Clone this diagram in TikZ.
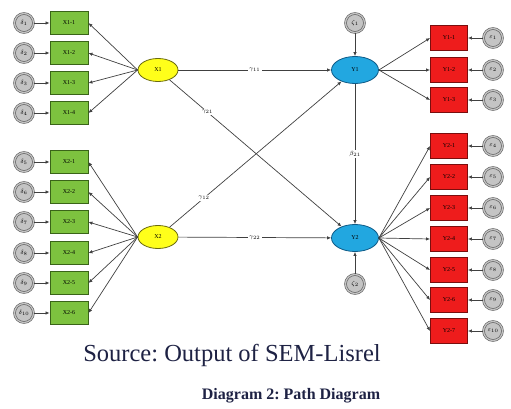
\documentclass[tikz,border=0pt]{standalone}
\usepackage{fontspec}
\setmainfont{Liberation Serif}
\frenchspacing
\usetikzlibrary{arrows.meta,shapes.geometric}
\definecolor{gfill}{HTML}{7DC23F}
\definecolor{gline}{HTML}{3A6418}
\definecolor{rfill}{HTML}{EE1C1C}
\definecolor{rline}{HTML}{7A0E0E}
\definecolor{bfill}{HTML}{22A7E0}
\definecolor{bline}{HTML}{0E5A86}
\definecolor{yfill}{HTML}{FFFF1A}
\definecolor{yline}{HTML}{6B6B10}
\definecolor{efill}{HTML}{C4C4C4}
\definecolor{eline}{HTML}{5A5A5A}
\definecolor{capcol}{HTML}{1E2244}
\begin{document}
\begin{tikzpicture}[x=1pt,y=-1pt,
  tiny/.style={font=\fontsize{6}{6}\selectfont},
  xind/.style={rectangle,draw=gline,fill=gfill,line width=0.9pt,minimum width=38pt,minimum height=23pt,inner sep=0pt,tiny},
  yind/.style={rectangle,draw=rline,fill=rfill,line width=0.9pt,minimum width=37pt,minimum height=25pt,inner sep=0pt,tiny},
  errc/.style={circle,draw=eline,double=efill,double distance=1.3pt,line width=0.6pt,fill=efill,minimum size=19pt,inner sep=0pt,tiny},
  exo/.style={ellipse,draw=yline,fill=yfill,line width=0.8pt,minimum width=40pt,minimum height=23pt,inner sep=0pt,tiny},
  endo/.style={ellipse,draw=bline,fill=bfill,line width=0.8pt,minimum width=47pt,minimum height=27pt,inner sep=0pt,tiny},
  arr/.style={draw=black!75,line width=0.7pt,-{Latex[length=4pt,width=3.5pt]}},
  plab/.style={fill=white,inner sep=1.5pt,tiny}]
\useasboundingbox (0,0) rectangle (511,409);

% exogenous latent variables
\node[exo] (X1) at (158,70) {X1};
\node[exo] (X2) at (158,237) {X2};
% endogenous latent variables
\node[endo] (Y1) at (355,70) {Y1};
\node[endo] (Y2) at (355,238) {Y2};

% indicators of X1
\foreach \i/\yy in {1/23,2/53,3/83,4/113}{
  \node[xind] (a\i) at (69,\yy) {X1-\i};
  \node[errc] (da\i) at (24,\yy) {$\delta_{\i}$};
  \draw[arr] (da\i) -- (a\i);
  \draw[arr] (X1.west) -- (a\i.east);
}
% indicators of X2
\foreach \i/\yy/\n in {1/162/5,2/192/6,3/222/7,4/253/8,5/283/9,6/313/10}{
  \node[xind] (b\i) at (69,\yy) {X2-\i};
  \node[errc] (db\i) at (24,\yy) {$\delta_{\n}$};
  \draw[arr] (db\i) -- (b\i);
  \draw[arr] (X2.west) -- (b\i.east);
}
% indicators of Y1
\foreach \i/\yy in {1/38,2/70,3/100}{
  \node[yind] (c\i) at (449,\yy) {Y1-\i};
  \node[errc] (ec\i) at (493,\yy) {$\varepsilon_{\i}$};
  \draw[arr] (ec\i) -- (c\i);
  \draw[arr] (Y1.east) -- (c\i.west);
}
% indicators of Y2
\foreach \i/\yy/\n in {1/146/4,2/177/5,3/208/6,4/239/7,5/270/8,6/300/9,7/331/10}{
  \node[yind] (e\i) at (449,\yy) {Y2-\i};
  \node[errc] (ee\i) at (493,\yy) {$\varepsilon_{\n}$};
  \draw[arr] (ee\i) -- (e\i);
  \draw[arr] (Y2.east) -- (e\i.west);
}

% disturbances
\node[errc] (z1) at (355,23) {$\zeta_1$};
\node[errc] (z2) at (355,284) {$\zeta_2$};
\draw[arr] (z1) -- (Y1);
\draw[arr] (z2) -- (Y2);

% structural paths
\draw[arr] (X1) -- node[plab,pos=0.5] {$\gamma_{11}$} (Y1);
\draw[arr] (X2) -- node[plab,pos=0.5] {$\gamma_{22}$} (Y2);
\draw[arr] (X1) -- node[plab,pos=0.22] {$\gamma_{21}$} (Y2);
\draw[arr] (X2) -- node[plab,pos=0.2] {$\gamma_{12}$} (Y1);
\draw[arr] (Y1) -- node[plab,pos=0.5] {$\beta_{21}$} (Y2);

% captions
\node[text=capcol,font=\fontsize{24.5}{24.5}\selectfont] (src) at (232,355) {Source: Output of SEM-Lisrel};
\node[text=capcol,font=\fontsize{16}{16}\selectfont\bfseries] (cap) at (291,396) {Diagram 2: Path Diagram};
\end{tikzpicture}
\end{document}
